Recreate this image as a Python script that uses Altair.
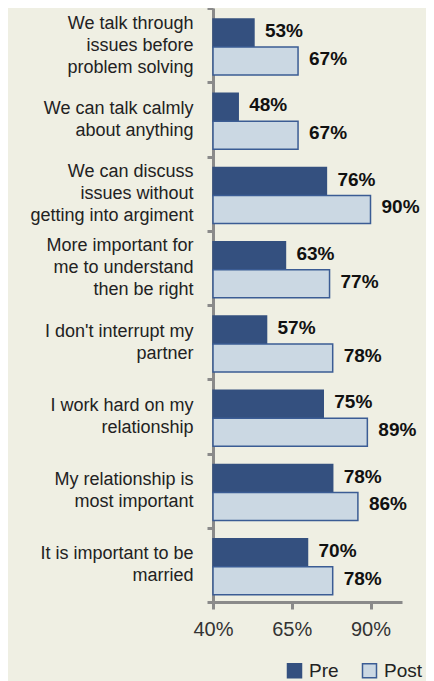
import altair as alt
import pandas as pd

categories = [
    "We talk through|issues before|problem solving",
    "We can talk calmly|about anything",
    "We can discuss|issues without|getting into argiment",
    "More important for|me to understand|then be right",
    "I don't interrupt my|partner",
    "I work hard on my|relationship",
    "My relationship is|most important",
    "It is important to be|married",
]
pre_values = [53, 48, 76, 63, 57, 75, 78, 70]
post_values = [67, 67, 90, 77, 78, 89, 86, 78]
series = ["Pre", "Post"]
x_ticks = [40, 65, 90]

rows = []
for c, a, b in zip(categories, pre_values, post_values):
    rows.append({"category": c, "series": "Pre", "value": a, "base": 40})
    rows.append({"category": c, "series": "Post", "value": b, "base": 40})
df = pd.DataFrame(rows)

y_enc = alt.Y(
    "category:N",
    sort=categories,
    title=None,
    scale=alt.Scale(paddingInner=0, paddingOuter=0),
    axis=alt.Axis(
        labelExpr="split(datum.label, '|')",
        labelFontSize=18,
        labelFont="Liberation Sans",
        labelColor="#222222",
        labelLineHeight=22,
        labelPadding=14,
        labelOffset={
            "condition": {"test": "length(split(datum.label, '|')) == 3", "value": -22},
            "value": -11,
        },
        tickBand="extent",
        tickSize=6,
        tickWidth=3,
        tickColor="#8a8a8a",
        domainColor="#8a8a8a",
        domainWidth=3,
        labelLimit=250,
    ),
)
yoff = alt.YOffset(
    "series:N", sort=series,
    scale=alt.Scale(paddingInner=0, paddingOuter=0.33, align=0.6),
)

x_enc = alt.X(
    "value:Q",
    title=None,
    scale=alt.Scale(domain=[40, 100], nice=False, zero=False),
    axis=alt.Axis(
        values=x_ticks,
        format=".0f",
        labelExpr="datum.label + '%'",
        labelFontSize=20,
        labelFont="Liberation Sans",
        labelColor="#333333",
        labelPadding=10,
        labelFlush=False,
        tickSize=7,
        tickWidth=3,
        tickColor="#8a8a8a",
        domainColor="#8a8a8a",
        domainWidth=3,
        grid=False,
    ),
)

bars = alt.Chart(df).mark_bar(strokeWidth=1.5, cornerRadius=0).encode(
    y=y_enc,
    yOffset=yoff,
    x=x_enc,
    x2="base:Q",
    color=alt.Color(
        "series:N",
        sort=series,
        scale=alt.Scale(domain=series, range=["#34507f", "#cbd8e3"]),
        legend=alt.Legend(
            title=None,
            orient="none",
            legendX=72,
            legendY=653,
            direction="horizontal",
            symbolType="square",
            symbolSize=196,
            symbolStrokeColor="#3b5c94",
            symbolStrokeWidth=1.5,
            labelFontSize=19,
            labelFont="Liberation Sans",
            labelColor="#222222",
            columnPadding=20,
            labelOffset=5,
        ),
    ),
    stroke=alt.Stroke(
        "series:N",
        sort=series,
        scale=alt.Scale(domain=series, range=["#34507f", "#3b5c94"]),
        legend=None,
    ),
)

labels = alt.Chart(df).transform_calculate(
    lbl="datum.value + '%'"
).mark_text(
    align="left", baseline="middle", dx=11, dy=-2, fontSize=19,
    font="Liberation Sans", fontWeight="bold", color="#111111",
).encode(
    y=alt.Y("category:N", sort=categories),
    yOffset=yoff,
    x="value:Q",
    text="lbl:N",
)

chart = alt.layer(bars, labels).properties(
    width=189,
    height=594,
    background="#efefe3",
    padding={"left": 205, "top": 0, "right": 24, "bottom": 79},
    autosize=alt.AutoSizeParams(type="none"),
).configure_view(stroke=None)

chart.save("out.html", embed_options={"renderer": "svg", "actions": False})
